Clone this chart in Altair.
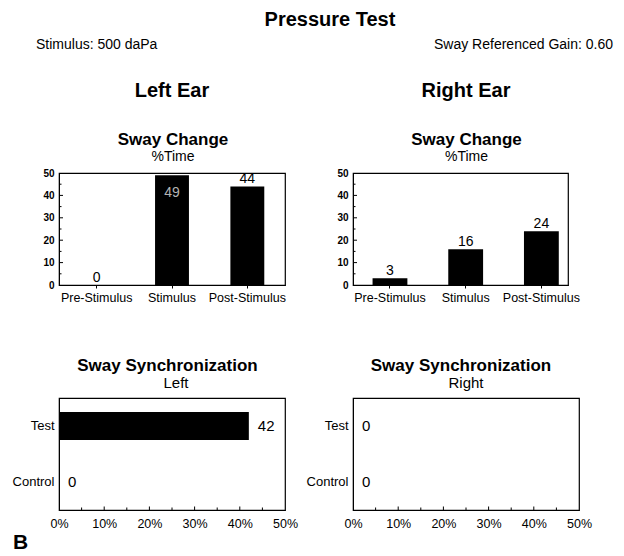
import altair as alt
import pandas as pd

# ---------------- data ----------------
MAIN_TITLE = "Pressure Test"
STIMULUS_TEXT = "Stimulus: 500 daPa"
GAIN_TEXT = "Sway Referenced Gain: 0.60"
EAR_TITLES = ["Left Ear", "Right Ear"]
CHANGE_TITLE = "Sway Change"
CHANGE_SUBTITLE = "%Time"
SYNC_TITLE = "Sway Synchronization"
SYNC_SUBTITLES = ["Left", "Right"]
PANEL_LETTER = "B"

PHASES = ["Pre-Stimulus", "Stimulus", "Post-Stimulus"]
LEFT_CHANGE = [0, 49, 44]
RIGHT_CHANGE = [3, 16, 24]

SYNC_CATS = ["Test", "Control"]
LEFT_SYNC = [42, 0]
RIGHT_SYNC = [0, 0]

AXIS_TICKS = [0, 10, 20, 30, 40, 50]
INNER_MAJOR = [10, 20, 30, 40]
INNER_MINOR = [5, 15, 25, 35, 45]

FONT = "Liberation Sans"


def txt(s, x, y, size, bold=False, align="center", color="black"):
    return alt.Chart(pd.DataFrame({"t": [s]})).mark_text(
        align=align, baseline="middle", fontSize=size,
        fontWeight="bold" if bold else "normal", font=FONT, color=color
    ).encode(text="t:N", x=alt.value(x), y=alt.value(y))


def change_panel(values, width, scale_kw, extra):
    df = pd.DataFrame({"phase": PHASES, "pct": values})
    x = alt.X("phase:N", sort=PHASES, title=None, scale=alt.Scale(**scale_kw),
              axis=alt.Axis(labelAngle=0, labelFontSize=12.5, labelColor="black",
                            labelFont=FONT, ticks=True, tickSize=3, tickColor="black",
                            labelPadding=3, domainColor="black"))
    y = alt.Y("pct:Q", title=None, scale=alt.Scale(domain=[0, 50], nice=False),
              axis=alt.Axis(values=AXIS_TICKS, labelFontSize=10, labelFontWeight="bold",
                            labelColor="black", labelFont=FONT, ticks=False, labelPadding=5,
                            grid=False, domainColor="black", labelFlush=False,
                            labelOverlap=False))
    bars = alt.Chart(df).mark_bar(color="black").encode(x=x, y=y)
    above = alt.Chart(df).transform_filter("datum.pct < 47").mark_text(
        baseline="alphabetic", dy=-3, fontSize=14, font=FONT, color="black"
    ).encode(x=x, y=y, text="pct:Q")
    inside = alt.Chart(df).transform_filter("datum.pct >= 47").mark_text(
        baseline="alphabetic", dy=22, fontSize=14, font=FONT, color="#b4b4b4"
    ).encode(x=x, y=y, text="pct:Q")
    major = alt.Chart(pd.DataFrame({"pct": INNER_MAJOR})).mark_rule(
        color="black", strokeWidth=1).encode(y=y, x=alt.value(0), x2=alt.value(4))
    minor = alt.Chart(pd.DataFrame({"pct": INNER_MINOR})).mark_rule(
        color="black", strokeWidth=1).encode(y=y, x=alt.value(0), x2=alt.value(2.5))
    return alt.layer(bars, above, inside, major, minor, *extra).properties(
        width=width, height=112)


def sync_panel(values, extra):
    df = pd.DataFrame({"cat": SYNC_CATS, "pct": values})
    y = alt.Y("cat:N", sort=SYNC_CATS, title=None,
              scale=alt.Scale(paddingInner=0.5, paddingOuter=0.25),
              axis=alt.Axis(labelFontSize=13, labelColor="black", labelFont=FONT,
                            ticks=False, labelPadding=5, domainColor="black"))
    x = alt.X("pct:Q", title=None, scale=alt.Scale(domain=[0, 50], nice=False),
              axis=alt.Axis(values=AXIS_TICKS, labelExpr="datum.value + '%'",
                            labelFontSize=12.5, labelColor="black", labelFont=FONT,
                            ticks=False, labelPadding=7, grid=False, domainColor="black",
                            labelFlush=False, labelOverlap=False))
    bars = alt.Chart(df).mark_bar(color="black").encode(x=x, y=y)
    labels = alt.Chart(df).mark_text(
        align="left", baseline="middle", dx=9, fontSize=15, font=FONT, color="black"
    ).encode(x=x, y=y, text="pct:Q")
    major = alt.Chart(pd.DataFrame({"pct": INNER_MAJOR})).mark_rule(
        color="black", strokeWidth=1).encode(x=x, y=alt.value(108.5), y2=alt.value(112))
    minor = alt.Chart(pd.DataFrame({"pct": INNER_MINOR})).mark_rule(
        color="black", strokeWidth=1).encode(x=x, y=alt.value(109.5), y2=alt.value(112))
    return alt.layer(bars, labels, major, minor, *extra).properties(width=226, height=112)


tl = change_panel(
    LEFT_CHANGE, 226, dict(paddingInner=0.55, paddingOuter=0.275),
    [
        txt(MAIN_TITLE, 271, -153, 20, bold=True),
        txt(STIMULUS_TEXT, -23, -128, 14, align="left"),
        txt(GAIN_TEXT, 554, -128, 14, align="right"),
        txt(EAR_TITLES[0], 113, -82, 20, bold=True),
        txt(CHANGE_TITLE, 114, -33, 17, bold=True),
        txt(CHANGE_SUBTITLE, 114, -16, 14),
    ],
)
tr = change_panel(
    RIGHT_CHANGE, 215, dict(paddingInner=0.54, paddingOuter=0.19, align=0.68),
    [
        txt(EAR_TITLES[1], 113, -82, 20, bold=True),
        txt(CHANGE_TITLE, 113.5, -33, 17, bold=True),
        txt(CHANGE_SUBTITLE, 113.5, -16, 14),
    ],
)
bl = sync_panel(
    LEFT_SYNC,
    [
        txt(SYNC_TITLE, 108.5, -32, 17, bold=True),
        txt(SYNC_SUBTITLES[0], 117, -15, 15),
        txt(PANEL_LETTER, -46, 145, 21, bold=True, align="left"),
    ],
)
br = sync_panel(
    RIGHT_SYNC,
    [
        txt(SYNC_TITLE, 108, -32, 17, bold=True),
        txt(SYNC_SUBTITLES[1], 113, -15, 15),
    ],
)

chart = alt.concat(
    tl, tr, bl, br, columns=2, spacing={"row": 113, "column": 68}, bounds="flush"
).properties(
    padding={"left": 3, "top": 1, "right": 0, "bottom": 1}
).configure_view(stroke="black", strokeWidth=1.2)

chart.save("out.html", embed_options={"renderer": "svg", "actions": False})
